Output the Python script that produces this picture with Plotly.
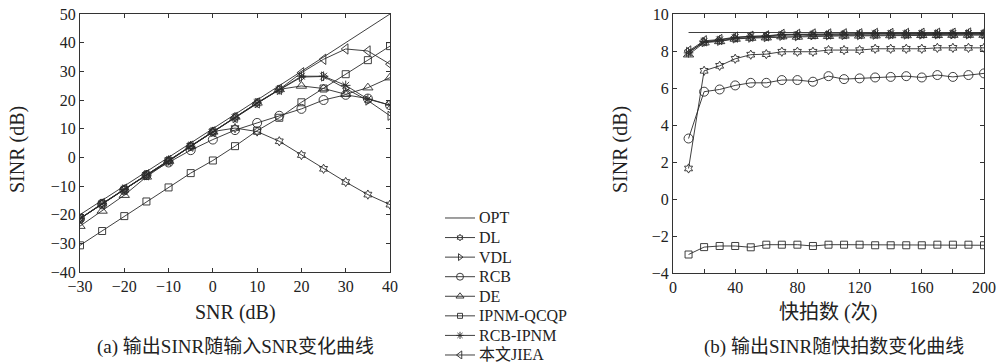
import plotly.graph_objects as go

# ---------- data ----------
names = ["OPT", "DL", "VDL", "RCB", "DE", "IPNM-QCQP", "RCB-IPNM", "本文JIEA"]
symbols = [None, "hexagram-open", "triangle-right-open", "circle-open",
           "triangle-up-open", "square-open", "asterisk-open", "triangle-left-open"]
msizes = [0, 7, 8, 9, 9, 7, 8, 9]

snr = [-30, -25, -20, -15, -10, -5, 0, 5, 10, 15, 20, 25, 30, 35, 40]
a_vals = {
    "OPT": [-20, -15, -10, -5, 0, 5, 10, 15, 20, 25, 30, 35, 40, 45, 50],
    "DL": [-21.4, -16.1, -11.2, -6.1, -1.0, 4.0, 9.0, 10.2, 9.0, 5.6, 0.8, -4.0, -8.6, -13.0, -16.5],
    "VDL": [-21.4, -16.2, -11.2, -6.3, -1.3, 3.8, 8.8, 13.7, 18.9, 23.5, 28.0, 28.2, 24.0, 19.8, 14.5],
    "RCB": [-21.4, -16.4, -11.5, -6.2, -1.8, 2.5, 6.2, 9.5, 12.0, 14.5, 16.9, 20.0, 21.8, 20.5, 18.2],
    "DE": [-24.0, -18.7, -13.2, -6.8, -1.3, 3.9, 8.9, 14.1, 19.0, 23.7, 24.9, 24.0, 22.0, 24.3, 27.8],
    "IPNM-QCQP": [-30.7, -25.7, -20.5, -15.4, -10.5, -5.5, -1.1, 3.9, 9.3, 13.8, 19.2, 24.0, 29.0, 33.9, 38.8],
    "RCB-IPNM": [-21.4, -16.2, -11.2, -6.2, -1.2, 3.9, 8.9, 13.8, 19.0, 23.6, 28.3, 28.3, 25.1, 20.3, 18.2],
    "本文JIEA": [-21.3, -16.1, -11.1, -6.1, -1.1, 3.9, 8.9, 13.9, 19.0, 23.7, 29.5, 34.2, 37.8, 37.1, 32.5],
}

snap = [10, 20, 30, 40, 50, 60, 70, 80, 90, 100, 110, 120, 130, 140, 150, 160, 170, 180, 190, 200]
b_vals = {
    "OPT": [9.0] * 20,
    "DL": [1.65, 6.93, 7.2, 7.58, 7.8, 7.83, 7.96, 7.96, 7.96, 8.05, 8.05, 8.05, 8.12, 8.12, 8.12, 8.12, 8.17, 8.17, 8.17, 8.17],
    "VDL": [7.95, 8.48, 8.55, 8.68, 8.72, 8.75, 8.82, 8.8, 8.85, 8.85, 8.86, 8.86, 8.88, 8.88, 8.89, 8.89, 8.9, 8.9, 8.9, 8.9],
    "RCB": [3.27, 5.8, 5.92, 6.14, 6.28, 6.28, 6.43, 6.43, 6.34, 6.64, 6.48, 6.52, 6.57, 6.6, 6.64, 6.57, 6.7, 6.6, 6.7, 6.79],
    "DE": [7.8, 8.45, 8.52, 8.65, 8.7, 8.72, 8.78, 8.76, 8.8, 8.8, 8.82, 8.82, 8.83, 8.84, 8.84, 8.85, 8.85, 8.86, 8.86, 8.86],
    "IPNM-QCQP": [-3.0, -2.6, -2.54, -2.54, -2.61, -2.47, -2.47, -2.47, -2.54, -2.47, -2.47, -2.47, -2.5, -2.5, -2.5, -2.5, -2.47, -2.47, -2.47, -2.5],
    "RCB-IPNM": [7.9, 8.5, 8.6, 8.72, 8.78, 8.8, 8.88, 8.88, 8.9, 8.9, 8.9, 8.92, 8.93, 8.93, 8.93, 8.94, 8.94, 8.95, 8.95, 8.95],
    "本文JIEA": [8.0, 8.55, 8.62, 8.75, 8.8, 8.82, 8.9, 8.9, 8.92, 8.92, 8.93, 8.93, 8.95, 8.95, 8.95, 8.96, 8.96, 8.96, 8.97, 8.97],
}

a_xticks = [-30, -20, -10, 0, 10, 20, 30, 40]
a_yticks = [-40, -30, -20, -10, 0, 10, 20, 30, 40, 50]
b_xticks = [0, 20, 40, 60, 80, 100, 120, 140, 160, 180, 200]
b_xlabels = ["0", "", "40", "", "80", "", "120", "", "160", "", "200"]
b_yticks = [-4, -2, 0, 2, 4, 6, 8, 10]

# ---------- figure ----------
FONT = "Liberation Serif, DejaVu Serif, Noto Sans CJK SC, serif"
LC = "#2a2a2a"
TC = "#222"
TICK_FS, TITLE_FS, CAP_FS, LEG_FS = 16, 20, 19, 16
fig = go.Figure()

for i, n in enumerate(names):
    for vals, xs, xa, ya in ((a_vals, snr, "x", "y"), (b_vals, snap, "x2", "y2")):
        if symbols[i] is None:
            fig.add_trace(go.Scatter(x=xs, y=vals[n], mode="lines", name=n,
                                     line=dict(color=LC, width=0.9),
                                     xaxis=xa, yaxis=ya, showlegend=False))
        else:
            fig.add_trace(go.Scatter(x=xs, y=vals[n], mode="lines+markers", name=n,
                                     line=dict(color=LC, width=0.9),
                                     marker=dict(symbol=symbols[i], size=msizes[i], color=LC,
                                                 line=dict(color=LC, width=0.9)),
                                     xaxis=xa, yaxis=ya, showlegend=False))

# ---------- legend drawn on its own hidden axes (rows = entry index) ----------
for i, n in enumerate(names):
    fig.add_trace(go.Scatter(x=[0, 1], y=[i, i], mode="lines", line=dict(color=LC, width=0.9),
                             xaxis="x3", yaxis="y3", showlegend=False, hoverinfo="skip"))
    if symbols[i] is not None:
        fig.add_trace(go.Scatter(x=[0.5], y=[i], mode="markers",
                                 marker=dict(symbol=symbols[i], size=max(msizes[i] - 2, 5), color=LC,
                                             line=dict(color=LC, width=0.9)),
                                 xaxis="x3", yaxis="y3", showlegend=False, hoverinfo="skip"))
    fig.add_annotation(xref="x3", yref="y3", x=1.05, y=i, text=n, showarrow=False,
                       xanchor="left", yanchor="middle",
                       font=dict(family=FONT, size=LEG_FS, color=TC))

H = 362.0
def yd(top, bottom):
    return [1 - bottom / H, 1 - top / H]

axis_common = dict(showline=True, linecolor="#333", linewidth=1, mirror="ticks",
                   ticks="inside", ticklen=4, tickcolor="#333", showgrid=False,
                   zeroline=False, automargin=False,
                   tickfont=dict(family=FONT, size=TICK_FS, color=TC))
hidden = dict(visible=False, showgrid=False, zeroline=False, fixedrange=True, automargin=False)

fig.update_layout(
    width=1000, height=362,
    margin=dict(l=0, r=0, t=0, b=0, pad=0, autoexpand=False),
    paper_bgcolor="white", plot_bgcolor="white",
    font=dict(family=FONT, size=15, color=TC),
    showlegend=False,
    xaxis=dict(domain=[0.080, 0.390], range=[-30, 40], tickvals=a_xticks, anchor="y", **axis_common),
    yaxis=dict(domain=yd(14, 272), range=[-40, 50], tickvals=a_yticks, anchor="x", **axis_common),
    xaxis2=dict(domain=[0.673, 0.984], range=[0, 200], tickvals=b_xticks, ticktext=b_xlabels,
                anchor="y2", **axis_common),
    yaxis2=dict(domain=yd(14, 273), range=[-4, 10], tickvals=b_yticks, anchor="x2", **axis_common),
    xaxis3=dict(domain=[0.445, 0.600], range=[0, 5.1667], anchor="y3", **hidden),
    yaxis3=dict(domain=yd(208.2, 358.9), range=[7.2, -0.5], anchor="x3", **hidden),
)

ann = [
    dict(text="SNR (dB)", x=235 / 1000, y=1 - 312 / H, fs=TITLE_FS),
    dict(text="快拍数 (次)", x=828 / 1000, y=1 - 312 / H, fs=TITLE_FS),
    dict(text="(a) 输出SINR随输入SNR变化曲线", x=235 / 1000, y=1 - 347 / H, fs=CAP_FS),
    dict(text="(b) 输出SINR随快拍数变化曲线", x=834 / 1000, y=1 - 347 / H, fs=CAP_FS),
    dict(text="SINR (dB)", x=18 / 1000, y=1 - 150 / H, textangle=-90, fs=TITLE_FS),
    dict(text="SINR (dB)", x=621 / 1000, y=1 - 150 / H, textangle=-90, fs=TITLE_FS),
]
for a in ann:
    fs = a.pop("fs")
    fig.add_annotation(xref="paper", yref="paper", showarrow=False,
                       xanchor="center", yanchor="middle",
                       font=dict(family=FONT, size=fs, color=TC), **a)

fig.write_html("out.html", config=dict(displayModeBar=False),
               post_script="document.body.style.margin='0';")
